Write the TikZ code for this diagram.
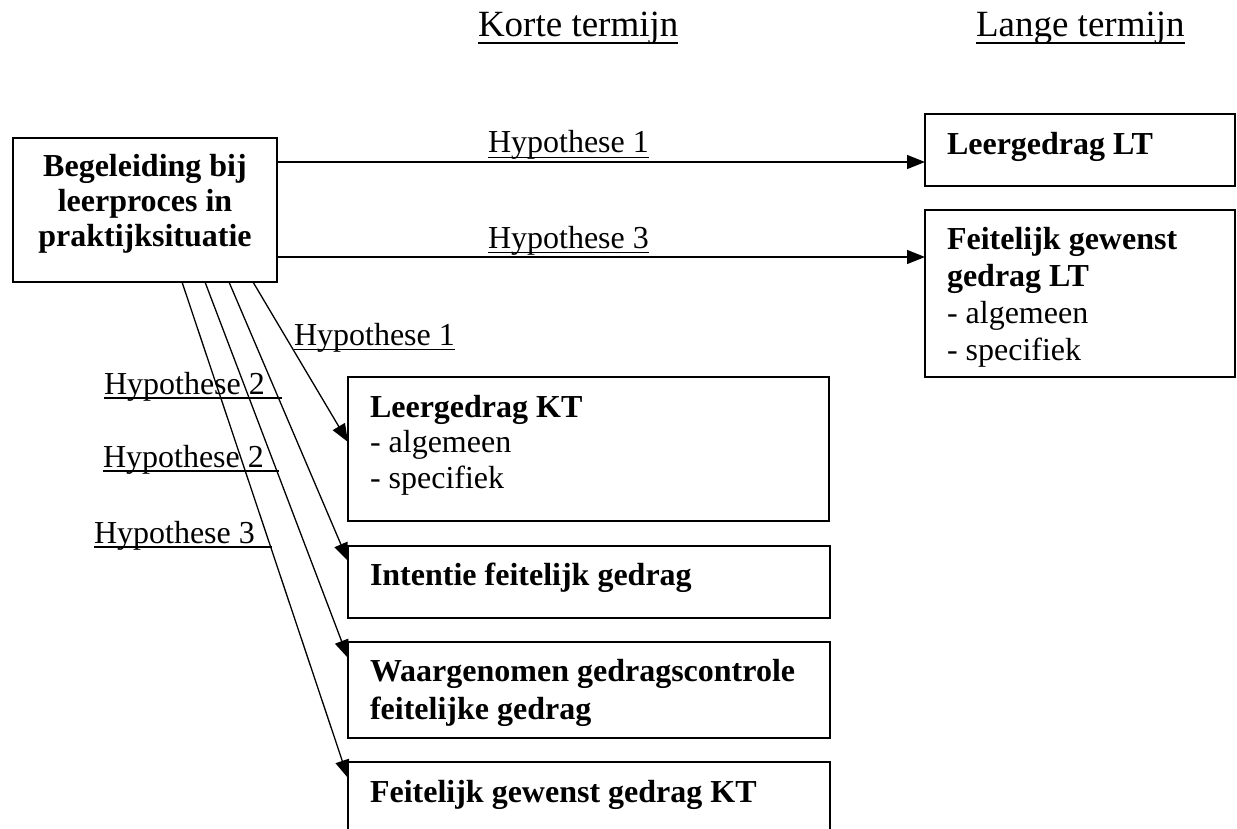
\documentclass[tikz,border=0pt]{standalone}
\usepackage{fontspec}
\setmainfont{Liberation Serif}
\usetikzlibrary{arrows.meta,calc}
\newcommand\myul[2][5.2pt]{\setbox0\hbox{#2}\rlap{\rule[-#1]{\wd0}{1.5pt}}\box0}
\newcommand\hdul[1]{\setbox0\hbox{#1}\rlap{\rule[-7pt]{\wd0}{2pt}}\box0}
\tikzset{
  box/.style={draw=black, line width=1.9pt, anchor=north west, inner sep=0pt, outer sep=0pt},
  txt/.style={anchor=base west, inner sep=0pt, outer sep=0pt, font=\fontsize{32}{36}\selectfont},
  hyp/.style={anchor=base west, inner sep=0pt, outer sep=0pt, font=\fontsize{32}{36}\selectfont},
  head/.style={anchor=base west, inner sep=0pt, outer sep=0pt, font=\fontsize{37}{42}\selectfont},
  conn/.style={line width=1.3pt, -{Triangle[length=18pt,width=14pt]}},
}
\begin{document}
\begin{tikzpicture}[x=1pt,y=-1pt]
\useasboundingbox (0,0) rectangle (1237,829);
\fill[white] (0,0) rectangle (1237,829);
\clip (0,0) rectangle (1237,829);

% headers
\node[head] (hk) at (478,37) {\hdul{Korte termijn}};
\node[head] (hl) at (976,37) {\hdul{Lange termijn}};

% boxes
\node[box, minimum width=264pt, minimum height=144pt] (beg) at (13,138) {};
\node[box, minimum width=310pt, minimum height=72pt] (lt1) at (925,114) {};
\node[box, minimum width=310pt, minimum height=167pt] (lt2) at (925,210) {};
\node[box, minimum width=481pt, minimum height=144pt] (kt1) at (348,377) {};
\node[box, minimum width=482pt, minimum height=72pt] (kt2) at (348,546) {};
\node[box, minimum width=482pt, minimum height=96pt] (kt3) at (348,642) {};
\node[box, minimum width=482pt, minimum height=120pt] (kt4) at (348,762) {};

% box texts
\node[txt, anchor=base] (begtxt) at (145,177) {\bfseries\vtop{\baselineskip=35pt
  \hbox to 264pt{\hfil Begeleiding bij\hfil}
  \hbox to 264pt{\hfil leerproces in\hfil}
  \hbox to 264pt{\hfil praktijksituatie\hfil}}};
\node[txt] (lt1txt) at (947,155) {\bfseries Leergedrag LT};
\node[txt] (lt2txt) at (947,250) {\vtop{\baselineskip=36.7pt
  \hbox{\bfseries Feitelijk gewenst}
  \hbox{\bfseries gedrag LT}
  \hbox{- algemeen}
  \hbox{- specifiek}}};
\node[txt] (kt1txt) at (370,417) {\vtop{\baselineskip=35.5pt
  \hbox{\bfseries Leergedrag KT}
  \hbox{- algemeen}
  \hbox{- specifiek}}};
\node[txt] (kt2txt) at (370,585) {\bfseries Intentie feitelijk gedrag};
\node[txt] (kt3txt) at (370,681) {\bfseries\vtop{\baselineskip=38.5pt
  \hbox{Waargenomen gedragscontrole}
  \hbox{feitelijke gedrag}}};
\node[txt] (kt4txt) at (370,802) {\bfseries Feitelijk gewenst gedrag KT};

% hypothesis labels
\node[hyp] (h1a) at (488,153) {\myul{Hypothese 1}};
\node[hyp] (h3a) at (488,248) {\myul{Hypothese 3}};
\node[hyp] (h1b) at (294,345) {\myul[5pt]{Hypothese 1}};
\node[hyp] (h2a) at (104,394) {\myul[4.5pt]{Hypothese 2\hspace{17pt}}};
\node[hyp] (h2b) at (103,467) {\myul[4.5pt]{Hypothese 2\hspace{15pt}}};
\node[hyp] (h3b) at (94,543) {\myul[4.8pt]{Hypothese 3\hspace{17pt}}};

% connectors
\draw[conn] ($(beg.north east)+(0,24)$) -- ($(lt1.north west)+(0,48)$);
\draw[conn] ($(beg.north east)+(0,119)$) -- ($(lt2.north west)+(0,47)$);
\draw[conn] ($(beg.south west)+(240,0)$) -- ($(kt1.north west)+(0,65)$);
\draw[conn] ($(beg.south west)+(216,0)$) -- ($(kt2.north west)+(0,15)$);
\draw[conn] ($(beg.south west)+(192,0)$) -- ($(kt3.north west)+(0,16)$);
\draw[conn] ($(beg.south west)+(169,0)$) -- ($(kt4.north west)+(0,16)$);
\end{tikzpicture}
\end{document}
